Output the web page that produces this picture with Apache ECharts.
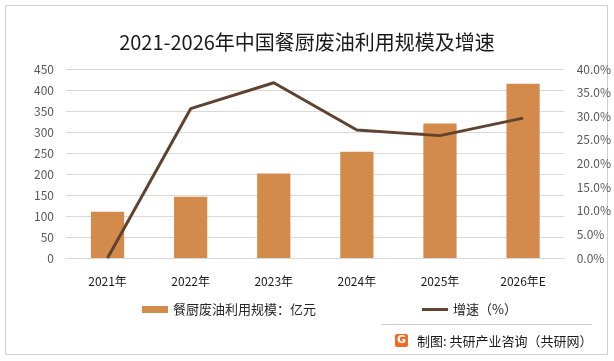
<!DOCTYPE html>
<html><head><meta charset="utf-8">
<script src="https://cdn.jsdelivr.net/npm/echarts@6/dist/echarts.min.js"></script>
<style>html,body{margin:0;padding:0;background:#fff}#c{width:614px;height:361px}</style>
</head><body><div id="c"></div>
<script>
var categories = ['2021年','2022年','2023年','2024年','2025年','2026年E'];
var scaleValues = [110, 146, 201, 253, 320, 415];
var growthValues = [0, 31.6, 37.1, 27.1, 25.9, 29.6];
var leftTicks = [0, 450, 50];
var rightTicks = [0, 40, 5];
var barName = '餐厨废油利用规模：亿元';
var lineName = '增速（%）';

var font = '"Noto Sans CJK SC", "Noto Sans", sans-serif';
var chart = echarts.init(document.getElementById('c'), null, {renderer:'canvas'});
chart.setOption({
  animation: false,
  backgroundColor: '#fff',
  textStyle: {fontFamily: font},
  title: {
    text: '2021-2026年中国餐厨废油利用规模及增速',
    left: 'center', top: 27,
    textStyle: {fontFamily: font, fontSize: 20, fontWeight: 'normal', color: '#1a1a1a'}
  },
  grid: {left: 66, right: 48, top: 69, bottom: 103, containLabel: false},
  legend: [{
    data: [{name: barName, icon: 'rect'}],
    left: 137, top: 298, itemWidth: 26, itemHeight: 7, itemGap: 4,
    textStyle: {fontFamily: font, fontSize: 13, color: '#262626'}
  },{
    data: [{name: lineName, icon: 'rect'}],
    left: 417, top: 298, itemWidth: 26, itemHeight: 3, itemGap: 4,
    textStyle: {fontFamily: font, fontSize: 13, color: '#262626'}
  }],
  xAxis: {
    type: 'category', data: categories,
    axisLine: {lineStyle: {color: '#d9d9d9', width: 1}},
    axisTick: {show: false},
    axisLabel: {fontFamily: font, fontSize: 12, color: '#1a1a1a', margin: 17}
  },
  yAxis: [{
    type: 'value', min: leftTicks[0], max: leftTicks[1], interval: leftTicks[2],
    axisLine: {show: false}, axisTick: {show: false},
    axisLabel: {fontFamily: font, fontSize: 12, color: '#595959', margin: 12},
    splitLine: {lineStyle: {color: '#d9d9d9', width: 1}}
  },{
    type: 'value', min: rightTicks[0], max: rightTicks[1], interval: rightTicks[2],
    axisLine: {show: false}, axisTick: {show: false},
    axisLabel: {fontFamily: font, fontSize: 12, color: '#595959', margin: 12,
      formatter: function(v){return v.toFixed(1) + '%';}},
    splitLine: {show: false}
  }],
  series: [{
    name: barName, type: 'bar', data: scaleValues, barWidth: '40%',
    itemStyle: {color: '#D38B4C'}
  },{
    name: lineName, type: 'line', yAxisIndex: 1, data: growthValues,
    showSymbol: false, symbol: 'none',
    lineStyle: {color: '#5E4330', width: 3},
    itemStyle: {color: '#5E4330'}
  }],
  graphic: [
    {type: 'rect', shape: {x: 5.5, y: 5.5, width: 602, height: 349}, style: {fill: 'none', stroke: '#d0d0d0', lineWidth: 1}, silent: true},
    {type: 'line', shape: {x1: 382, y1: 324.5, x2: 592, y2: 324.5}, style: {stroke: '#cfcfcf', lineWidth: 1}},
    {type: 'rect', shape: {x: 395, y: 334, width: 13, height: 13, r: 2}, style: {fill: '#F26B21'}},
    {type: 'text', style: {text: 'G', x: 401.5, y: 340.5, align: 'center', verticalAlign: 'middle', fill: '#fff', font: 'bold 11px "DejaVu Sans", sans-serif'}},
    {type: 'text', style: {text: '制图: 共研产业咨询（共研网）', x: 417, y: 341, verticalAlign: 'middle', fill: '#1a1a1a', font: '13px "Noto Sans CJK SC", sans-serif'}}
  ]
});
</script>
</body></html>
